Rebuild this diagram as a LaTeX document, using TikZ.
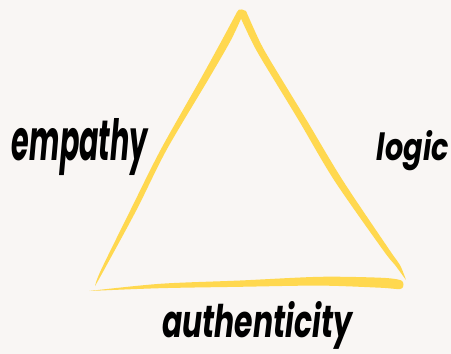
\documentclass[tikz,border=0pt]{standalone}
\usepackage{fontspec}
\setmainfont{Poppins}
\usepackage{graphicx}
\definecolor{bgcol}{RGB}{249,246,244}
\definecolor{brushyellow}{RGB}{255,216,79}
\tikzset{
  brushstroke/.style={fill=brushyellow, draw=none},
  brushword/.style={inner sep=0pt, outer sep=0pt, text=black, font=\bfseries\itshape},
}
\begin{document}
\begin{tikzpicture}[x=1pt, y=-1pt]
  \fill[bgcol] (0,0) rectangle (451,354);
  \useasboundingbox (0,0) rectangle (451,354);
  % left stroke
  \fill[brushstroke] plot[smooth] coordinates {(237,12) (222,40) (200,80) (160.5,150) (130.5,210) (101,270) (95,286)}
     -- plot[smooth] coordinates {(95,286) (104,270) (136.5,210) (166.5,150) (208,80) (231,40) (244,12)}
     -- (242,9.5) -- (239,9.5) -- cycle;
  % right stroke
  \fill[brushstroke] plot[smooth] coordinates {(238,12) (251,40) (262,60) (298.5,120) (334,180) (383,250) (395,265) (406,280)}
     -- plot[smooth] coordinates {(406,280) (400,265) (389.5,250) (342.5,180) (306.5,120) (270,60) (259,40) (246,11)}
     -- (242,9.5) -- cycle;
  % bottom stroke
  \fill[brushstroke] plot[smooth] coordinates {(89,291) (160,283.8) (240,280.5) (320,276.8) (380,277.7) (400,280) (403.5,284.5) (400,289) (380,287.7) (320,285.6) (240,286.8) (160,288.2) (89,291)} -- cycle;
  % words
  \node[brushword, anchor=base west] (empathy) at (12,160) {\resizebox{136pt}{42pt}{empathy}};
  \node[brushword, anchor=base west] (logic) at (377,160) {\resizebox{72pt}{30pt}{logic}};
  \node[brushword, anchor=base west] (authenticity) at (162,337) {\resizebox{190pt}{36pt}{authenticity}};
\end{tikzpicture}
\end{document}
